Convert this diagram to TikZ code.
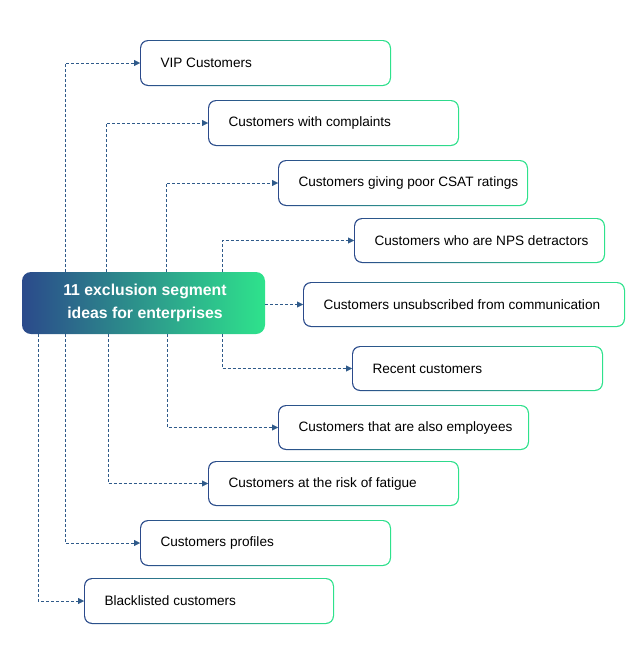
\documentclass[tikz,border=0pt]{standalone}
\usepackage{fontspec}
\setmainfont{Liberation Sans}
\usetikzlibrary{arrows.meta}
\definecolor{segblue}{HTML}{2B4A8B}
\definecolor{seggreen}{HTML}{2EE38C}
\definecolor{linkcol}{HTML}{2F5A8A}
\tikzset{
  link/.style={draw=linkcol, dashed, dash pattern=on 3pt off 2pt, -{Triangle[length=6pt,width=6pt]}},
  label/.style={anchor=west, font=\fontsize{13.6}{16}\selectfont, text=black}
}
% box with gradient border: name, left, top, right, bottom, text
\newcommand{\segbox}[6]{%
  \shade[left color=segblue, right color=seggreen, rounded corners=8pt] (#2,#3) rectangle (#4,#5);
  \fill[white, rounded corners=7pt] (#2+1.2,#3+1.2) rectangle (#4-1.2,#5-1.2);
  \coordinate (#1) at (#2,{(#3+#5)/2});
  \node[label] (#1t) at (#2+17,{(#3+#5)/2}) {#6};
}
\begin{document}
\begin{tikzpicture}[x=1pt,y=-1pt]
\useasboundingbox (0,0) rectangle (643,670);
% center
\shade[left color=segblue, right color=seggreen, rounded corners=9pt] (22,272) rectangle (265,334);
\node[font=\bfseries\fontsize{15.8}{23}\selectfont, text=white, align=center] (hub) at (145,303) {11 exclusion segment\\ideas for enterprises};
\coordinate (hubr) at (265,304.5);
% boxes
\segbox{vip}{140}{40}{391}{86}{VIP Customers}
\segbox{cmp}{208}{100}{459}{146}{Customers with complaints}
\segbox{csat}{278}{160}{528}{206}{Customers giving poor CSAT ratings}
\segbox{nps}{354}{218}{605}{263}{Customers who are NPS detractors}
\segbox{uns}{303}{282}{625}{327}{Customers unsubscribed from communication}
\segbox{rec}{352}{346}{603}{391}{Recent customers}
\segbox{emp}{278}{405}{529}{450}{Customers that are also employees}
\segbox{fat}{208}{461}{459}{506}{Customers at the risk of fatigue}
\segbox{pro}{140}{520}{391}{566}{Customers profiles}
\segbox{blk}{84}{578}{334}{624}{Blacklisted customers}
% connectors
\draw[link] (65,272) |- (vip);
\draw[link] (106,272) |- (cmp);
\draw[link] (166,272) |- (csat);
\draw[link] (222,272) |- (nps);
\draw[link] (hubr) -- (uns);
\draw[link] (222,334) |- (rec);
\draw[link] (167,334) |- (emp);
\draw[link] (108,334) |- (fat);
\draw[link] (65,334) |- (pro);
\draw[link] (38,334) |- (blk);
\end{tikzpicture}
\end{document}
